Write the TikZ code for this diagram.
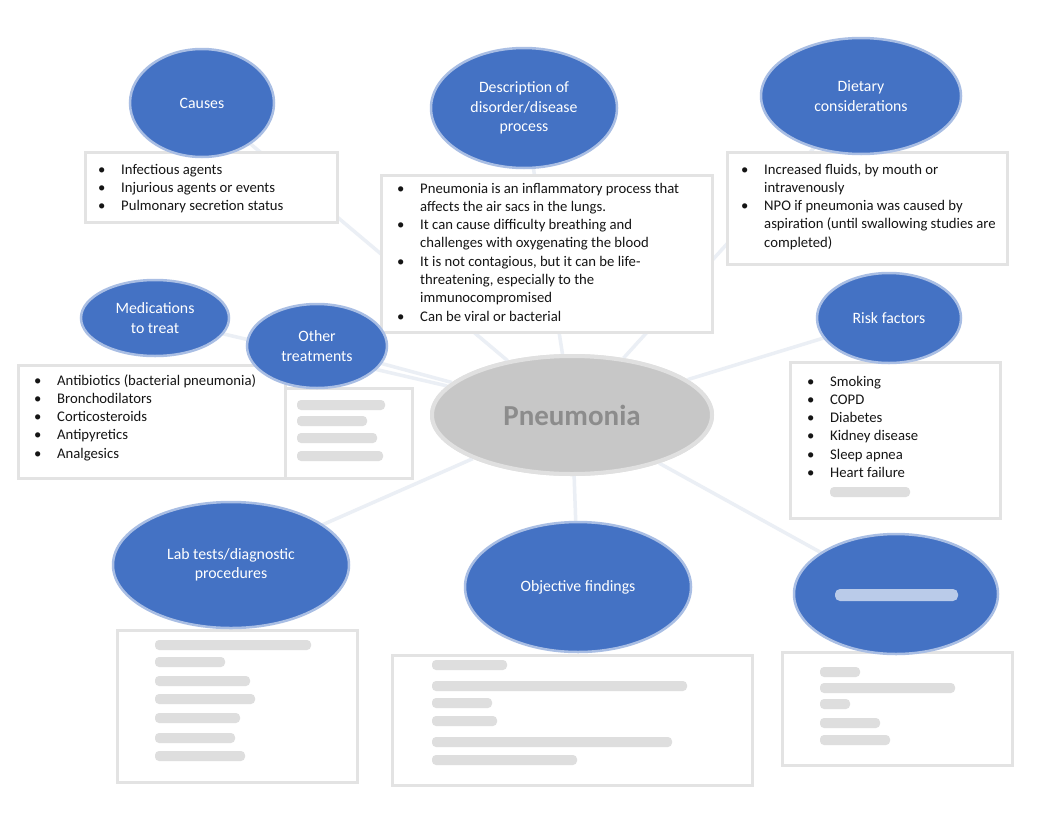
\documentclass[tikz,border=0pt]{standalone}
\usepackage{fontspec}
\setmainfont{Carlito}
\usetikzlibrary{shapes.geometric}
\definecolor{bub}{HTML}{4472C4}
\definecolor{bubhalo}{HTML}{A9BEE4}
\definecolor{boxedge}{HTML}{E3E3E3}
\definecolor{connc}{HTML}{EBEFF5}
\definecolor{blurc}{HTML}{DEDEDE}
\definecolor{txt}{HTML}{151515}
\newcommand\li[1]{\par\noindent\makebox[23pt][l]{\textbullet}#1}
\newcommand\lc[1]{\par\noindent\hspace*{23pt}#1}
\newcommand\lst[2]{\parbox[t]{#1}{#2}}
\tikzset{
  bubble/.style={ellipse, fill=bub, draw=bubhalo, line width=2.5pt, text=white, align=center,
    font=\fontsize{15.8}{19.5}\selectfont, inner sep=0pt},
  listbox/.style={draw=boxedge, line width=3pt, fill=white},
  listtext/.style={inner sep=0pt, anchor=base west, text=txt, font=\fontsize{14.7}{18.3}\selectfont},
  conn/.style={draw=connc, line width=3.5pt},
  blurbar/.style={fill=blurc, rounded corners=4pt},
  centre/.style={ellipse, fill=black!22, draw=black!12, line width=4pt, minimum width=280pt, minimum height=118pt,
    text=black!45, font=\fontsize{29}{32}\bfseries\selectfont},
}
\begin{document}
\begin{tikzpicture}[x=1pt,y=-1pt]
\useasboundingbox (0,0) rectangle (1062,822);
\fill[white] (0,0) rectangle (1062,822);

% central node
\node[centre] (pneu) at (572,415) {};

% coordinates for bubble centres (used by connectors)
\coordinate (cC) at (202,103);
\coordinate (cD) at (524,108);
\coordinate (cF) at (861,96);
\coordinate (cM) at (155,318);
\coordinate (cO) at (317,346);
\coordinate (cR) at (889,318);
\coordinate (cL) at (231,565);
\coordinate (cB) at (578,587);
\coordinate (cS) at (896,594);

% connectors (behind everything)
\draw[conn] (pneu) -- (cC);
\draw[conn] (pneu) -- (cD);
\draw[conn] (pneu) -- (cF);
\draw[conn] (pneu) -- (cM);
\draw[conn] (pneu) -- (cO);
\draw[conn] (pneu) -- (cR);
\draw[conn] (pneu) -- (cL);
\draw[conn] (pneu) -- (cB);
\draw[conn] (pneu) -- (cS);

% central node on top of connectors
\node[centre] (pneutop) at (572,415) {Pneumonia};

% list boxes
\draw[listbox] (85,152) rectangle (337,222);
\draw[listbox] (381,175) rectangle (712,332);
\draw[listbox] (727,152) rectangle (1007,264);
\draw[listbox] (268,388) rectangle (412,478);
\draw[listbox] (18,365) rectangle (285,478);
\draw[listbox] (790,362) rectangle (1000,518);
\draw[listbox] (117,630) rectangle (357,782);
\draw[listbox] (392,655) rectangle (752,785);
\draw[listbox] (782,652) rectangle (1012,765);

% blurred (unreadable) list lines
\foreach \y/\w in {405/88, 421/70, 438/80, 456/86} {\fill[blurbar] (297,\y-5) rectangle ++(\w,10);}
\fill[blurbar] (830,487) rectangle (910,497);
\foreach \y/\w in {645/156, 662/70, 681/95, 699/100, 718/85, 738/80, 756/90} {\fill[blurbar] (155,\y-5) rectangle ++(\w,10);}
\foreach \y/\w in {665/75, 686/255, 703/60, 721/65, 742/240, 760/145} {\fill[blurbar] (432,\y-5) rectangle ++(\w,10);}
\foreach \y/\w in {672/40, 688/135, 704/30, 723/60, 740/70} {\fill[blurbar] (820,\y-5) rectangle ++(\w,10);}

% bubbles
\node[bubble, minimum width=144pt, minimum height=108pt] (causes) at (cC) {Causes};
\node[bubble, minimum width=186pt, minimum height=120pt] (desc) at (cD) {Description of\\disorder/disease\\process};
\node[bubble, minimum width=200pt, minimum height=116pt] (diet) at (cF) {Dietary\\considerations};
\node[bubble, minimum width=148pt, minimum height=76pt] (meds) at (cM) {Medications\\to treat};
\node[bubble, minimum width=140pt, minimum height=84pt] (other) at (cO) {Other\\treatments};
\node[bubble, minimum width=144pt, minimum height=90pt] (risk) at (cR) {Risk factors};
\node[bubble, minimum width=236pt, minimum height=126pt] (lab) at (cL) {Lab tests/diagnostic\\procedures};
\node[bubble, minimum width=226pt, minimum height=130pt] (obj) at (cB) {Objective findings};
\node[bubble, minimum width=204pt, minimum height=120pt] (subj) at (cS) {};
\fill[bubhalo!80!white, rounded corners=5pt] (835,589) rectangle (958,601);

% list texts
\node[listtext] (causesL) at (98,174) {\lst{240pt}{%
\li{Infectious agents}
\li{Injurious agents or events}
\li{Pulmonary secretion status}}};

\node[listtext] (descL) at (397,193) {\lst{310pt}{%
\li{Pneumonia is an inflammatory process that}
\lc{affects the air sacs in the lungs.}
\li{It can cause difficulty breathing and}
\lc{challenges with oxygenating the blood}
\li{It is not contagious, but it can be life-}
\lc{threatening, especially to the}
\lc{immunocompromised}
\li{Can be viral or bacterial}}};

\node[listtext] (dietL) at (741,174) {\lst{265pt}{%
\li{Increased fluids, by mouth or}
\lc{intravenously}
\li{NPO if pneumonia was caused by}
\lc{aspiration (until swallowing studies are}
\lc{completed)}}};

\node[listtext] (medsL) at (34,385) {\lst{250pt}{%
\li{Antibiotics (bacterial pneumonia)}
\li{Bronchodilators}
\li{Corticosteroids}
\li{Antipyretics}
\li{Analgesics}}};

\node[listtext] (riskL) at (807,386) {\lst{190pt}{%
\li{Smoking}
\li{COPD}
\li{Diabetes}
\li{Kidney disease}
\li{Sleep apnea}
\li{Heart failure}}};
\end{tikzpicture}
\end{document}
